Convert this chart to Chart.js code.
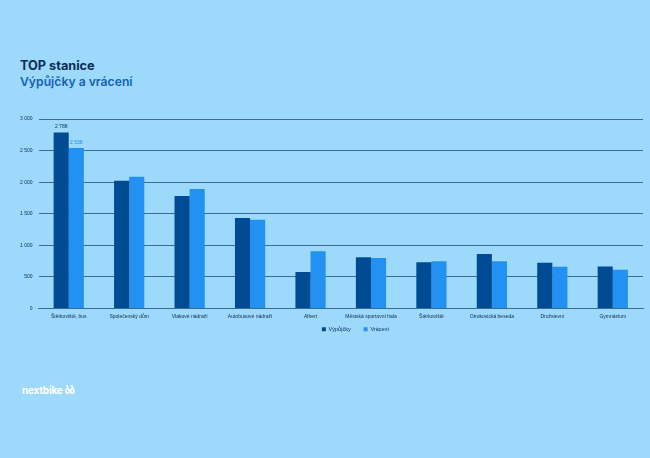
<!DOCTYPE html>
<html>
<head>
<meta charset="utf-8">
<script src="https://cdn.jsdelivr.net/npm/chart.js@4"></script>
<style>
	html, body { margin: 0; padding: 0; background: #9dd9fb; }
	#wrap { position: relative; width: 650px; height: 458px; overflow: hidden; }
	#title { position: absolute; left: 20px; top: 58px; font-family: Inter, sans-serif; font-weight: 700; font-size: 12.7px; line-height: 16px; color: #0b2d55; }
	#title span { color: #1560b5; font-weight: 600; font-size: 12.2px; }
	#logo { position: absolute; left: 22px; top: 384px; font-family: Inter, sans-serif; font-weight: 700; font-size: 10px; color: #ffffff; letter-spacing: -0.2px; }
	#logo b { font-family: "DejaVu Sans", sans-serif; font-size: 10px; letter-spacing: -1px; margin-left: 2px; }
	#cv { position: absolute; left: 0; top: 0; }
</style>
</head>
<body>
<div id="wrap">
	<div id="title">TOP stanice<br><span>Výpůjčky a vrácení</span></div>
	<div id="logo">nextbike<b>ბბ</b></div>
	<canvas id="cv" width="650" height="458"></canvas>
</div>
<script>
var stationList = ['Štěrkoviště, bus', 'Společenský dům', 'Vlakové nádraží', 'Autobusové nádraží', 'Albert',
	'Městská sportovní hala', 'Štěrkoviště', 'Otrokovická beseda', 'Družstevní', 'Gymnázium'];
var loanList = [2788, 2023, 1780, 1431, 576, 813, 734, 861, 724, 665];
var returnList = [2539, 2086, 1891, 1405, 908, 798, 750, 750, 660, 613];
var seriesNames = ['Výpůjčky', 'Vrácení'];
var tickList = [0, 500, 1000, 1500, 2000, 2500, 3000];

function fmt(v) {
	return String(v).replace(/\B(?=(\d{3})+(?!\d))/g, ' ');
}

/***********************************************************************************************
 * hodnoty jen nad první skupinou
 ***********************************************************************************************/
var firstLabels = {
	id: 'firstLabels',
	afterDatasetsDraw: function(chart) {
		var ctx = chart.ctx;
		ctx.save();
		ctx.font = '5px "Liberation Sans", sans-serif';
		ctx.textAlign = 'center';
		ctx.textBaseline = 'bottom';
		var colors = ['#0b2d55', '#1f86ea'];
		chart.data.datasets.forEach(function(ds, i) {
			var bar = chart.getDatasetMeta(i).data[0];
			ctx.fillStyle = colors[i];
			ctx.fillText(fmt(ds.data[0]), bar.x, bar.y - 3);
		});
		ctx.restore();
	}
};

// legenda je v originále posunutá doprava
var legendShift = {
	id: 'legendShift',
	afterLayout: function(chart) {
		chart.legend.left += 27;
		chart.legend.right += 27;
	}
};

new Chart(document.getElementById('cv'), {
	type: 'bar',
	data: {
		labels: stationList,
		datasets: [{
			label: seriesNames[0],
			data: loanList,
			backgroundColor: '#004b93'
		}, {
			label: seriesNames[1],
			data: returnList,
			backgroundColor: '#2391f2'
		}]
	},
	options: {
		responsive: false,
		animation: false,
		layout: { padding: { left: 14, right: 7, top: 119, bottom: 116 } },
		datasets: { bar: { categoryPercentage: 0.5, barPercentage: 1 } },
		scales: {
			x: {
				grid: { display: false, drawTicks: false },
				border: { color: '#3b6c93', width: 1 },
				ticks: { color: '#0b2d55', font: { size: 5, family: '"Liberation Sans", sans-serif' }, maxRotation: 0, autoSkip: false, padding: 5 }
			},
			y: {
				min: 0,
				max: 3000,
				afterBuildTicks: function(axis) {
					axis.ticks = tickList.map(function(v) { return { value: v }; });
				},
				grid: { color: '#3b6c93', lineWidth: 1, drawTicks: false },
				border: { display: false },
				ticks: { color: '#0b2d55', font: { size: 5, family: '"Liberation Sans", sans-serif' }, padding: 6, callback: function(v) { return fmt(v); } }
			}
		},
		plugins: {
			legend: {
				position: 'bottom',
				labels: {
					boxWidth: 4, boxHeight: 4, color: '#0b2d55', padding: 2,
					font: { size: 5.5, family: '"Liberation Sans", sans-serif' },
					generateLabels: function(chart) {
						var items = Chart.defaults.plugins.legend.labels.generateLabels(chart);
						items[0].text = items[0].text + '\u2003\u2003';
						return items;
					}
				}
			},
			tooltip: { enabled: false }
		}
	},
	plugins: [firstLabels, legendShift]
});
</script>
</body>
</html>
